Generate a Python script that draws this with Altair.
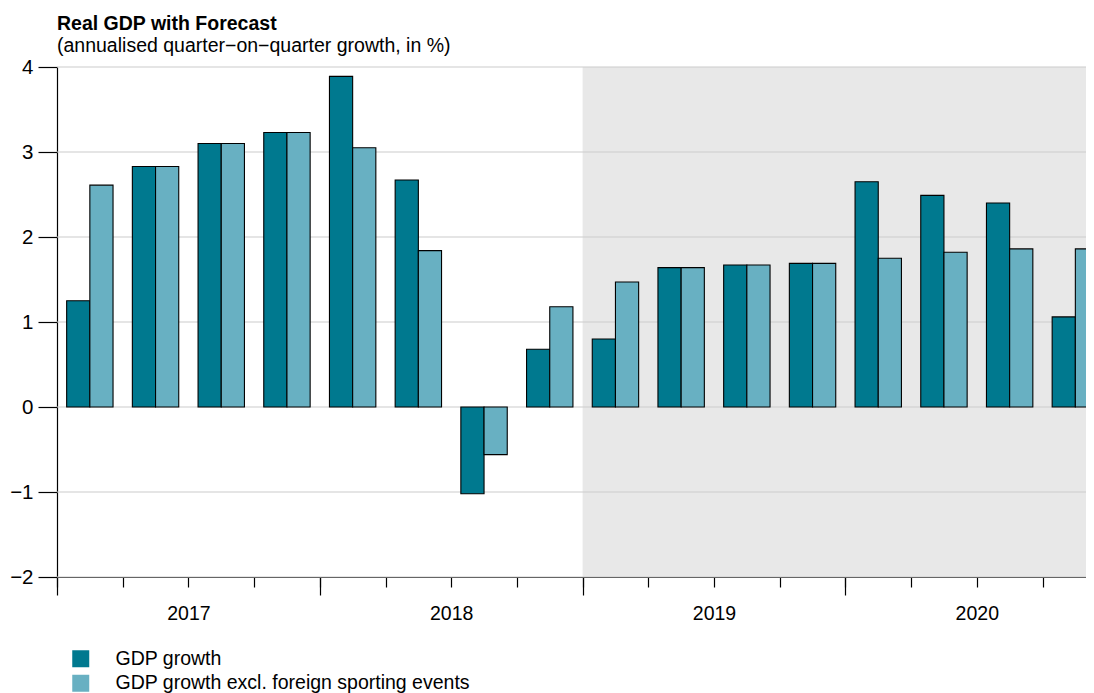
import json
import altair as alt
import pandas as pd

quarters = ["2017Q1", "2017Q2", "2017Q3", "2017Q4",
            "2018Q1", "2018Q2", "2018Q3", "2018Q4",
            "2019Q1", "2019Q2", "2019Q3", "2019Q4",
            "2020Q1", "2020Q2", "2020Q3", "2020Q4"]
gdp = [1.25, 2.83, 3.10, 3.23, 3.89, 2.67, -1.02, 0.68,
       0.80, 1.64, 1.67, 1.69, 2.65, 2.49, 2.40, 1.06]
gdp_excl = [2.61, 2.83, 3.10, 3.23, 3.05, 1.84, -0.56, 1.18,
            1.47, 1.64, 1.67, 1.69, 1.75, 1.82, 1.86, 1.86]
series = ["GDP growth", "GDP growth excl. foreign sporting events"]
years = ["2017", "2018", "2019", "2020"]
forecast_start = "2019Q1"
y_ticks = [-2, -1, 0, 1, 2, 3, 4]

colors = ["#00798f", "#68b0c2"]
BAR_W = 0.353
PLOT_W = 1029
QUARTER_PX = 65.7

rows = []
for i, q in enumerate(quarters):
    rows.append({"quarter": q, "series": series[0], "value": gdp[i],
                 "x0": i + 0.5 - BAR_W, "x1": i + 0.5})
    rows.append({"quarter": q, "series": series[1], "value": gdp_excl[i],
                 "x0": i + 0.5, "x1": i + 0.5 + BAR_W})
bars_df = pd.DataFrame(rows)

shade_df = pd.DataFrame({"start": [quarters.index(forecast_start)],
                         "end": [len(quarters)],
                         "lo": [min(y_ticks)], "hi": [max(y_ticks)]})
grid_df = pd.DataFrame({"y": y_ticks})

xscale = alt.Scale(domain=[0, PLOT_W / QUARTER_PX], nice=False, zero=False)
yscale = alt.Scale(domain=[min(y_ticks), max(y_ticks)], nice=False, zero=False)

FS = 19.5

y_axis = alt.Axis(orient="left", values=y_ticks, tickSize=19,
                  labelPadding=5, grid=False, title=None,
                  domainColor="black", tickColor="black",
                  domainWidth=1.2, tickWidth=1.2,
                  labelFontSize=20.5, labelColor="black")

shade = alt.Chart(shade_df).mark_rect(color="#e8e8e8", clip=True).encode(
    x=alt.X("start:Q", scale=xscale,
            axis=alt.Axis(orient="bottom", values=list(range(len(quarters))),
                          tickSize=10, labels=False, grid=False, title=None,
                          domainColor="black", tickColor="black",
                          domainWidth=1.2, tickWidth=1.2)),
    x2="end:Q",
    y=alt.Y("lo:Q", scale=yscale, axis=y_axis),
    y2="hi:Q",
)

grid = alt.Chart(grid_df).mark_rule(color="#cccccc", strokeWidth=1.2).encode(
    y=alt.Y("y:Q", scale=yscale, axis=y_axis),
)

label_expr = json.dumps(years) + "[floor(datum.value / 4)]"

bars = alt.Chart(bars_df).mark_bar(stroke="black", strokeWidth=1.1, clip=True).encode(
    x=alt.X("x0:Q", scale=xscale,
            axis=alt.Axis(orient="bottom", values=[0, 4, 8, 12], tickSize=18,
                          labelExpr=label_expr, labelOffset=2 * QUARTER_PX,
                          labelFlush=False, labelPadding=9, domain=False,
                          grid=False, title=None, tickColor="black",
                          tickWidth=1.2, labelFontSize=FS, labelColor="black")),
    x2="x1:Q",
    y=alt.Y("value:Q", scale=yscale, axis=y_axis),
    y2=alt.datum(0),
    color=alt.Color("series:N", scale=alt.Scale(domain=series, range=colors),
                    legend=alt.Legend(title=None, orient="none", legendX=14,
                                      legendY=582, symbolType="square",
                                      symbolSize=289, symbolStrokeWidth=0,
                                      labelFontSize=FS, labelColor="black",
                                      labelLimit=600,
                                      labelOffset=25, rowPadding=3.5, padding=0)),
)

chart = alt.layer(shade, grid, bars).resolve_axis(x="independent").properties(
    width=PLOT_W, height=510,
    autosize=alt.AutoSizeParams(type="none"),
    padding={"left": 49, "top": 59, "right": 0, "bottom": 116},
    title=alt.TitleParams(text="Real GDP with Forecast",
                          subtitle="(annualised quarter\u2212on\u2212quarter growth, in %)",
                          anchor="start", frame="group", fontSize=FS,
                          subtitleFontSize=FS, fontWeight="bold",
                          color="black", subtitleColor="black",
                          subtitlePadding=2, offset=1),
).configure(font="Liberation Sans").configure_view(strokeWidth=0)

chart.save("out.html", embed_options={"renderer": "svg", "actions": False})
